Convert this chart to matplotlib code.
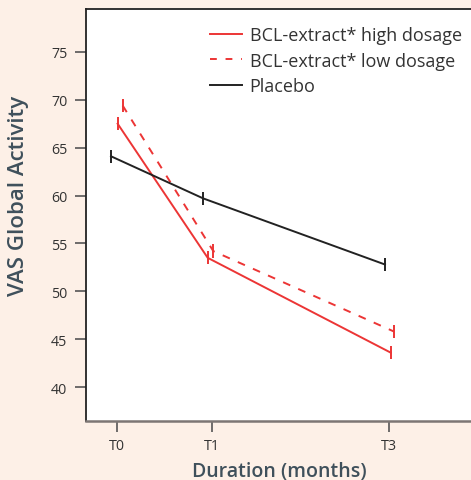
import matplotlib
matplotlib.use("Agg")
import matplotlib.pyplot as plt
from matplotlib.lines import Line2D

# ---- data ----
tick_labels = ["T0", "T1", "T3"]
tick_pos = [0.0, 1.0, 2.87]

high_x = [0.007, 0.958, 2.89]
high_y = [67.5, 53.5, 43.6]
high_err = [0.7, 0.7, 0.7]

low_x = [0.06, 1.017, 2.925]
low_y = [69.4, 54.2, 45.8]
low_err = [0.7, 0.7, 0.7]

placebo_x = [-0.063, 0.911, 2.83]
placebo_y = [64.1, 59.7, 52.8]
placebo_err = [0.7, 0.7, 0.7]

y_ticks = [40, 45, 50, 55, 60, 65, 70, 75]

labels = ["BCL-extract* high dosage", "BCL-extract* low dosage", "Placebo"]

RED = "#ec3535"
BLACK = "#222222"
BG = "#fdf0e7"
LABEL_C = "#3f505b"

plt.rcParams["font.family"] = ["Open Sans", "DejaVu Sans"]

W, H = 471, 481
fig = plt.figure(figsize=(W / 100, H / 100), dpi=100, facecolor=BG)
left, right, top, bottom = 86, 480, 10, 422
ax = fig.add_axes([left / W, (H - bottom) / H, (right - left) / W, (bottom - top) / H])
ax.set_facecolor("white")

ax.errorbar(high_x, high_y, yerr=high_err, color=RED, lw=1.4, elinewidth=1.4, capsize=0)
el = ax.errorbar(low_x, low_y, yerr=low_err, color=RED, lw=1.4, elinewidth=1.4, capsize=0)
el[0].set_dashes([4.0, 4.5])
ax.errorbar(placebo_x, placebo_y, yerr=placebo_err, color=BLACK, lw=1.4, elinewidth=1.4, capsize=0)

x0 = -0.327
ax.set_xlim(x0, x0 + (right - left) / 94.7)
ax.set_ylim(40 - (bottom - 388) / 9.6, 75 + (53 - top) / 9.6)

ax.set_xticks(tick_pos)
ax.set_xticklabels(tick_labels)
ax.set_yticks(y_ticks)

ax.tick_params(axis="both", direction="out", length=8, width=1.2, colors="#555555",
               labelcolor="#333333", labelsize=10.3)
ax.tick_params(axis="x", pad=4.5)
ax.tick_params(axis="y", pad=5.5)

for s in ["left", "top"]:
    ax.spines[s].set_color("#222222")
    ax.spines[s].set_linewidth(1.3)
ax.spines["bottom"].set_color("#7d7674")
ax.spines["bottom"].set_linewidth(1.8)
ax.spines["right"].set_visible(False)

ax.set_ylabel("VAS Global Activity", fontsize=16, color=LABEL_C, fontweight="semibold")
ax.yaxis.set_label_coords(-(86 - 29) / 394, (422 - 195.5) / 412)
ax.set_xlabel("Duration (months)", fontsize=14, color=LABEL_C, fontweight="semibold")
ax.xaxis.set_label_coords((279.5 - 86) / 394, -(462 - 422) / 412)

handles = [
    Line2D([], [], color=RED, lw=1.4),
    Line2D([], [], color=RED, lw=1.4, dashes=[3.5, 4.5]),
    Line2D([], [], color=BLACK, lw=1.4),
]
leg = fig.legend(handles, labels, loc="upper left", bbox_to_anchor=(210 / W, 1 - 27 / H),
                 frameon=False, fontsize=13, handlelength=1.75, handletextpad=0.45,
                 labelspacing=0.42, borderaxespad=0, borderpad=0)
for t in leg.get_texts():
    t.set_color("#333333")

fig.savefig("out.png", dpi=100, facecolor=BG)
